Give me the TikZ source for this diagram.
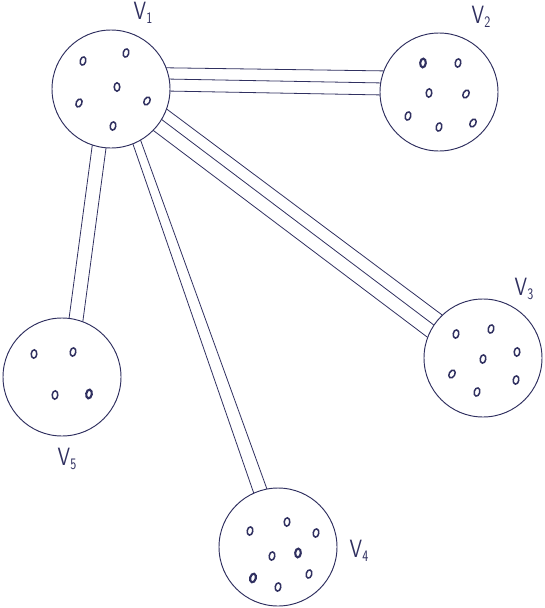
\documentclass[tikz,border=0pt]{standalone}
\usetikzlibrary{calc,backgrounds}
\definecolor{ink}{RGB}{48,48,96}
\begin{document}
\begin{tikzpicture}[x=1pt,y=-1pt,
  setbox/.style={circle,draw=ink,line width=0.95pt,fill=white,minimum size=118pt,inner sep=0pt},
  strand/.style={draw=ink,line width=0.8pt},
  elem/.style={draw=ink,line width=1.5pt},
  boldelem/.style={draw=ink,line width=2.1pt},
  setlabel/.style={text=ink,font=\sffamily\fontsize{25}{25}\selectfont,inner sep=0pt,xscale=0.8,transform shape}]
\useasboundingbox (0,0) rectangle (545,608);

% the five sets
\node[setbox] (v1) at (111,89) {};
\node[setbox] (v2) at (439,92) {};
\node[setbox] (v3) at (483,358) {};
\node[setbox] (v4) at (278,547) {};
\node[setbox] (v5) at (62,377) {};

% set names
\newcommand{\setname}[1]{V\kern0.5pt\raisebox{-4pt}{\fontsize{16}{16}\selectfont #1}}
\node[setlabel] (l1) at (143,13) {\setname{1}};
\node[setlabel] (l2) at (481,17) {\setname{2}};
\node[setlabel] (l3) at (524,289) {\setname{3}};
\node[setlabel] (l4) at (359,551) {\setname{4}};
\node[setlabel] (l5) at (67,459) {\setname{5}};

% parallel strands, hidden inside the circles
\begin{scope}[on background layer]
  % V1 -- V2
  \draw[strand] ($(v1.center)!22pt!90:(v2.center)$) -- ($(v2.center)!20.3pt!-90:(v1.center)$);
  \draw[strand] ($(v1.center)!11pt!90:(v2.center)$) -- ($(v2.center)!8pt!-90:(v1.center)$);
  \draw[strand] ($(v1.center)!-1pt!90:(v2.center)$) -- ($(v2.center)!-4pt!-90:(v1.center)$);
  % V1 -- V3
  \draw[strand] ($(v1.center)!17.3pt!90:(v3.center)$) -- ($(v3.center)!10pt!-90:(v1.center)$);
  \draw[strand] ($(v1.center)!6.2pt!90:(v3.center)$) -- ($(v3.center)!-3.3pt!-90:(v1.center)$);
  \draw[strand] ($(v1.center)!-7.6pt!90:(v3.center)$) -- ($(v3.center)!-16.9pt!-90:(v1.center)$);
  % V1 -- V4
  \draw[strand] ($(v1.center)!2.75pt!90:(v4.center)$) -- ($(v4.center)!-5.3pt!-90:(v1.center)$);
  \draw[strand] ($(v1.center)!10.4pt!90:(v4.center)$) -- ($(v4.center)!9.35pt!-90:(v1.center)$);
  % V1 -- V5
  \draw[strand] ($(v1.center)!-11.1pt!90:(v5.center)$) -- ($(v5.center)!-0.8pt!-90:(v1.center)$);
  \draw[strand] ($(v1.center)!2.9pt!90:(v5.center)$) -- ($(v5.center)!13.3pt!-90:(v1.center)$);
\end{scope}

% elements of each set
\foreach \x/\y/\r in {83/61/-15,126/53/-15,117/87/0,79/103/-25,147/101/-30,113/126/-10,
                      458/63/-10,429/93/-5,466/94/-30,408/116/-15,439/127/-15,473/123/-30,
                      456/334/-10,491/329/-15,517/352/-5,483/359/-10,452/374/-30,516/380/-10,477/392/-15,
                      250/531/-10,287/522/-5,316/533/-10,272/556/-10,309/574/-15,278/587/-10,
                      34/354/-5,73/352/-10,55/395/-5}
  \draw[elem,rotate around={\r:(\x,\y)}] (\x,\y) ellipse [x radius=2.8pt, y radius=4.2pt];
\foreach \x/\y/\r in {423/63/-5,298/553/-5,253/578/-15,89/394/-10}
  \draw[boldelem,rotate around={\r:(\x,\y)}] (\x,\y) ellipse [x radius=2.8pt, y radius=4.4pt];
\end{tikzpicture}
\end{document}
